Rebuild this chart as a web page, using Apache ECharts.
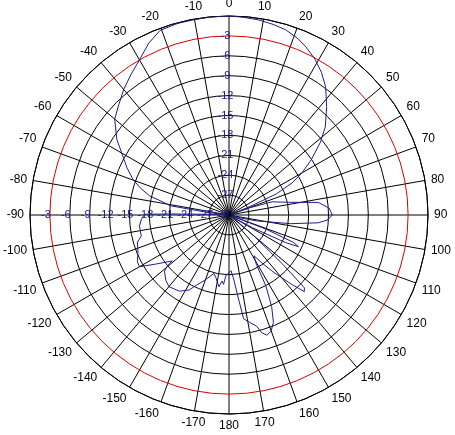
<!DOCTYPE html>
<html>
<head>
<meta charset="utf-8">
<script src="https://cdn.jsdelivr.net/npm/echarts@6/dist/echarts.min.js"></script>
<style>
  html, body { margin: 0; padding: 0; background: #fff; }
  #chart { width: 455px; height: 435px; }
</style>
</head>
<body>
<div id="chart"></div>
<script>
// pattern angles (deg, 0 = top, clockwise) and gain (dB)
const angles = [
  -180, -177, -175.5, -174, -172, -168, -165.5, -160, -155, -152,
  -147, -140, -136, -131, -129.5, -129, -124, -120, -117, -112,
  -106.5, -103.5, -97, -92.5, -89.5, -89, -88, -86, -83, -82,
  -81, -78, -76.5, -73, -69.5, -65, -61, -56, -50, -45,
  -40, -35, -30, -25, -20.5, -15, -10.5, -5, 0,
  4, 8.5, 13, 17, 21, 24.5, 29, 33, 37, 42,
  47.5, 51.5, 56, 60, 63, 66, 68, 69.5, 71, 73,
  78, 82, 86, 90, 93, 95, 98, 102, 105, 108,
  111, 113, 114.5, 116, 118.5, 121, 125, 130, 132.5, 134,
  135.5, 138, 142, 145.5, 148.5, 151, 152.5, 155, 157.5, 160,
  162.5, 164.5, 166, 169, 172, 174, 176, 178, 180
]
const gains = [
  -21.9, -20.8, -19.5, -20.0, -19.1, -20.4, -20.9, -19.6, -18.3, -17.2,
  -16.3, -15.9, -16.3, -17.1, -18.0, -19.0, -16.8, -14.4, -14.5, -15.2,
  -15.6, -16.4, -16.4, -16.8, -17.3, -21, -27, -29.5, -26.5, -25,
  -21, -19.2, -17.7, -16, -14.5, -13, -11.7, -9.6, -7.5, -6.5,
  -5.3, -4.2, -3.0, -1.4, -0.3, -0.1, -0.1, 0, 0,
  -0.1, -0.25, -0.5, -0.8, -1.4, -2.1, -3.2, -4.4, -5.8, -8.0,
  -10.3, -12.4, -15, -17.3, -19.3, -22.2, -26.5, -29.5, -26.5, -23.2,
  -20.8, -16.4, -14.9, -14.4, -15.2, -16.5, -20.6, -25.7, -28.5, -29.5,
  -24, -19.5, -18.5, -20.5, -26, -29.5, -29.8, -25, -19, -14.2,
  -13.8, -16.0, -19.0, -21.2, -22.8, -21.5, -18, -14.8, -12.5, -11.4,
  -11.0, -11.6, -12.7, -13.5, -14.2, -18.0, -20.5, -21.6, -21.9
]
// radial rings every 3 dB, the -3 dB ring is red
const radialTicks = [-30, -27, -24, -21, -18, -15, -12, -9, -6, -3, 0]
const redRing = -3

const lineBlue = '#1e1e8c'
const labelBlue = '#20208c'

// angle axis runs 0..360 clockwise from top, so negative angles wrap
const pos = []
const neg = []
angles.forEach((a, i) => {
  if (a >= 0) pos.push([gains[i], a])
  else neg.push([gains[i], a + 360])
})
const pattern = pos.concat(neg)
pattern.push([gains[angles.indexOf(0)], 360])

const chart = echarts.init(document.getElementById('chart'))

const center = [229, 215]
const radius = 199

chart.setOption({
  animation: false,
  backgroundColor: '#fff',
  polar: [
    { center: center, radius: radius },
    { center: center, radius: radius }
  ],
  angleAxis: [{
    polarIndex: 0,
    type: 'value',
    min: 0,
    max: 360,
    interval: 10,
    startAngle: 90,
    clockwise: true,
    z: 1,
    axisLine: { lineStyle: { color: '#000', width: 1 } },
    axisTick: { show: false },
    axisLabel: {
      color: '#000',
      fontSize: 12,
      fontFamily: 'Liberation Sans',
      margin: 6,
      formatter: (v) => String(v > 180 ? v - 360 : v)
    },
    splitLine: { show: true, lineStyle: { color: '#000', width: 1 } }
  }, {
    // second polar only carries the labels along the -90 spoke
    polarIndex: 1,
    type: 'value',
    min: 0,
    max: 360,
    startAngle: 180,
    show: false
  }],
  radiusAxis: [{
    polarIndex: 0,
    type: 'value',
    min: -30,
    max: 0,
    interval: 3,
    z: 4,
    axisLine: { show: false },
    axisTick: { show: false },
    axisLabel: {
      color: labelBlue,
      fontSize: 11,
      fontFamily: 'Liberation Sans',
      margin: 0,
      align: 'center',
      verticalAlign: 'middle',
      padding: [0, 7, 4, 0],
      formatter: (v) => (v === 0 || v === -30) ? '' : String(v)
    },
    splitLine: {
      show: true,
      lineStyle: {
        width: 1,
        color: radialTicks.map(t => t === redRing ? '#e00000' : '#000')
      }
    }
  }, {
    polarIndex: 1,
    type: 'value',
    min: -30,
    max: 0,
    interval: 3,
    z: 4,
    axisLine: { show: false },
    axisTick: { show: false },
    splitLine: { show: false },
    axisLabel: {
      color: labelBlue,
      fontSize: 11,
      fontFamily: 'Liberation Sans',
      margin: 0,
      align: 'center',
      verticalAlign: 'middle',
      padding: [0, 8, 0, 0],
      formatter: (v) => v === 0 ? '' : String(v)
    }
  }],
  series: [{
    type: 'line',
    coordinateSystem: 'polar',
    polarIndex: 0,
    data: pattern,
    symbol: 'none',
    smooth: false,
    lineStyle: { color: lineBlue, width: 1 },
    z: 5
  }]
})
</script>
</body>
</html>
